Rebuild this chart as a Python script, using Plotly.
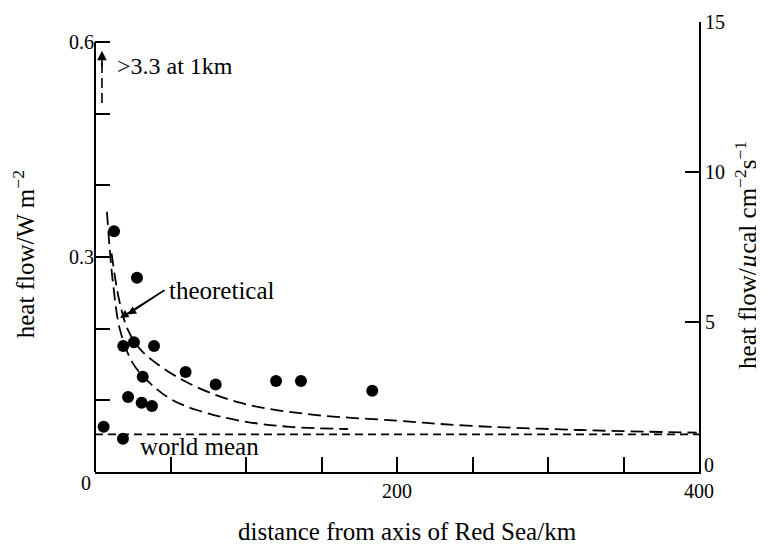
import plotly.graph_objects as go

# measured heat flow points
dist_km = [12.6, 27.8, 18.7, 25.8, 39.1, 60.0, 79.9, 119.9, 136.4, 183.6,
           31.6, 21.9, 30.9, 37.7, 5.7, 18.5]
flow_wm2 = [0.336, 0.271, 0.176, 0.181, 0.176, 0.1395, 0.122, 0.127, 0.127,
            0.1135, 0.133, 0.1047, 0.0967, 0.092, 0.0633, 0.0465]

# theoretical curves
theo1_x = [7.9, 10, 12, 16.6, 25, 36.4, 50, 67.3, 96, 129, 167.5]
theo1_y = [0.363, 0.305, 0.262, 0.198, 0.152, 0.124, 0.102, 0.0865, 0.0716, 0.063, 0.060]
theo2_x = [11, 16, 21.9, 30.9, 58.3, 96, 140, 200, 243.7, 321, 398.5]
theo2_y = [0.305, 0.24, 0.198, 0.169, 0.128, 0.0967, 0.081, 0.0716, 0.065, 0.0586, 0.0549]

world_mean = 0.0525
x_range = [0, 400]
left_ticks = [0.1, 0.2, 0.3, 0.4, 0.5, 0.6]
left_labels = ["", "", "0.3", "", "", "0.6"]
right_ticks = [5, 10, 15]
x_ticks = [50, 100, 150, 200, 250, 300, 350, 400]
x_labels = ["", "", "", "200", "", "", "", "400"]

UCAL = 0.041868  # W m^-2 per µcal cm^-2 s^-1
FONT = "Liberation Serif"


def f(size):
    return dict(family=FONT, size=size, color="black")


fig = go.Figure()

fig.add_trace(go.Scatter(x=[0, 400], y=[world_mean, world_mean], mode="lines",
                         line=dict(color="black", width=1.6, dash="8px,5px"),
                         showlegend=False, hoverinfo="skip"))
fig.add_trace(go.Scatter(x=theo1_x, y=theo1_y, mode="lines", line_shape="spline",
                         line=dict(color="black", width=1.8, dash="13px,6px"),
                         showlegend=False, hoverinfo="skip"))
fig.add_trace(go.Scatter(x=theo2_x, y=theo2_y, mode="lines", line_shape="spline",
                         line=dict(color="black", width=1.8, dash="13px,6px"),
                         showlegend=False, hoverinfo="skip"))
fig.add_trace(go.Scatter(x=[4.6, 4.6], y=[0.515, 0.572], mode="lines",
                         line=dict(color="black", width=1.6, dash="10px,5px"),
                         showlegend=False, hoverinfo="skip"))
fig.add_trace(go.Scatter(x=dist_km, y=flow_wm2, mode="markers",
                         marker=dict(color="black", size=12),
                         showlegend=False))
# invisible trace for right axis
fig.add_trace(go.Scatter(x=[0], y=[0], yaxis="y2", mode="markers",
                         marker=dict(opacity=0), showlegend=False, hoverinfo="skip"))

annotations = [
    dict(x=4.6, y=0.588, ax=4.6, ay=0.565, xref="x", yref="y", axref="x", ayref="y",
         text="", showarrow=True, arrowhead=2, arrowsize=1.2, arrowwidth=1.6, arrowcolor="black"),
    dict(x=16.6, y=0.215, ax=47, ay=0.255, xref="x", yref="y", axref="x", ayref="y",
         text="", showarrow=True, arrowhead=2, arrowsize=1.2, arrowwidth=1.4, arrowcolor="black"),
    dict(x=21.7, y=0.2197, ax=47, ay=0.255, xref="x", yref="y", axref="x", ayref="y",
         text="", showarrow=True, arrowhead=2, arrowsize=1.2, arrowwidth=1.4, arrowcolor="black"),
    dict(x=13.5, y=0.566, xref="x", yref="y", text="&gt;3.3 at 1km", showarrow=False,
         xanchor="left", yanchor="middle", font=f(24)),
    dict(x=48, y=0.254, xref="x", yref="y", text="theoretical", showarrow=False,
         xanchor="left", yanchor="middle", font=f(25)),
    dict(x=28.5, y=0.035, xref="x", yref="y", text="world mean", showarrow=False,
         xanchor="left", yanchor="middle", font=f(25)),
    dict(x=-0.015, y=-0.025, xref="paper", yref="paper", text="0", showarrow=False,
         xanchor="center", yanchor="middle", font=f(20)),
    dict(x=1.005, y=0.016, xref="paper", yref="paper", text="0", showarrow=False,
         xanchor="left", yanchor="middle", font=f(20)),
    dict(x=-0.1175, y=0.484, xref="paper", yref="paper", text="heat flow/W m<sup>−2</sup>",
         textangle=-90, showarrow=False, xanchor="center", yanchor="middle", font=f(25)),
    dict(x=1.0775, y=0.482, xref="paper", yref="paper",
         text="heat flow/<i>µ</i>cal cm<sup>−2</sup>s<sup>−1</sup>",
         textangle=-90, showarrow=False, xanchor="center", yanchor="middle", font=f(25)),
    dict(x=0.5166, y=-0.1333, xref="paper", yref="paper",
         text="distance from axis of Red Sea/km", showarrow=False,
         xanchor="center", yanchor="middle", font=f(25)),
]

shapes = [
    dict(type="line", xref="paper", yref="y", x0=0, x1=0, y0=0, y1=0.6,
         line=dict(color="black", width=2)),
]

# page body has an 8px default margin, so the figure is 8px smaller
fig.update_layout(
    width=756, height=538,
    margin=dict(l=87, r=65, t=14, b=74, autoexpand=False),
    paper_bgcolor="white", plot_bgcolor="white",
    font=f(20),
    showlegend=False,
    xaxis=dict(range=x_range, showgrid=False, zeroline=False, showline=True,
               linecolor="black", linewidth=2, ticks="inside", ticklen=15, tickwidth=1.6,
               tickcolor="black", tickvals=x_ticks, ticktext=x_labels,
               tickfont=f(20)),
    yaxis=dict(range=[0, 15 * UCAL], showgrid=False, zeroline=False, showline=False,
               ticks="inside", ticklen=15, tickwidth=1.6, tickcolor="black",
               tickvals=left_ticks, ticktext=left_labels, tickfont=f(20)),
    yaxis2=dict(range=[0, 15], overlaying="y", side="right", showgrid=False,
                zeroline=False, showline=True, linecolor="black", linewidth=2,
                ticks="inside", ticklen=14, tickwidth=1.6, tickcolor="black",
                tickvals=right_ticks, tickfont=f(20)),
    annotations=annotations,
    shapes=shapes,
)

fig.write_html("out.html")
